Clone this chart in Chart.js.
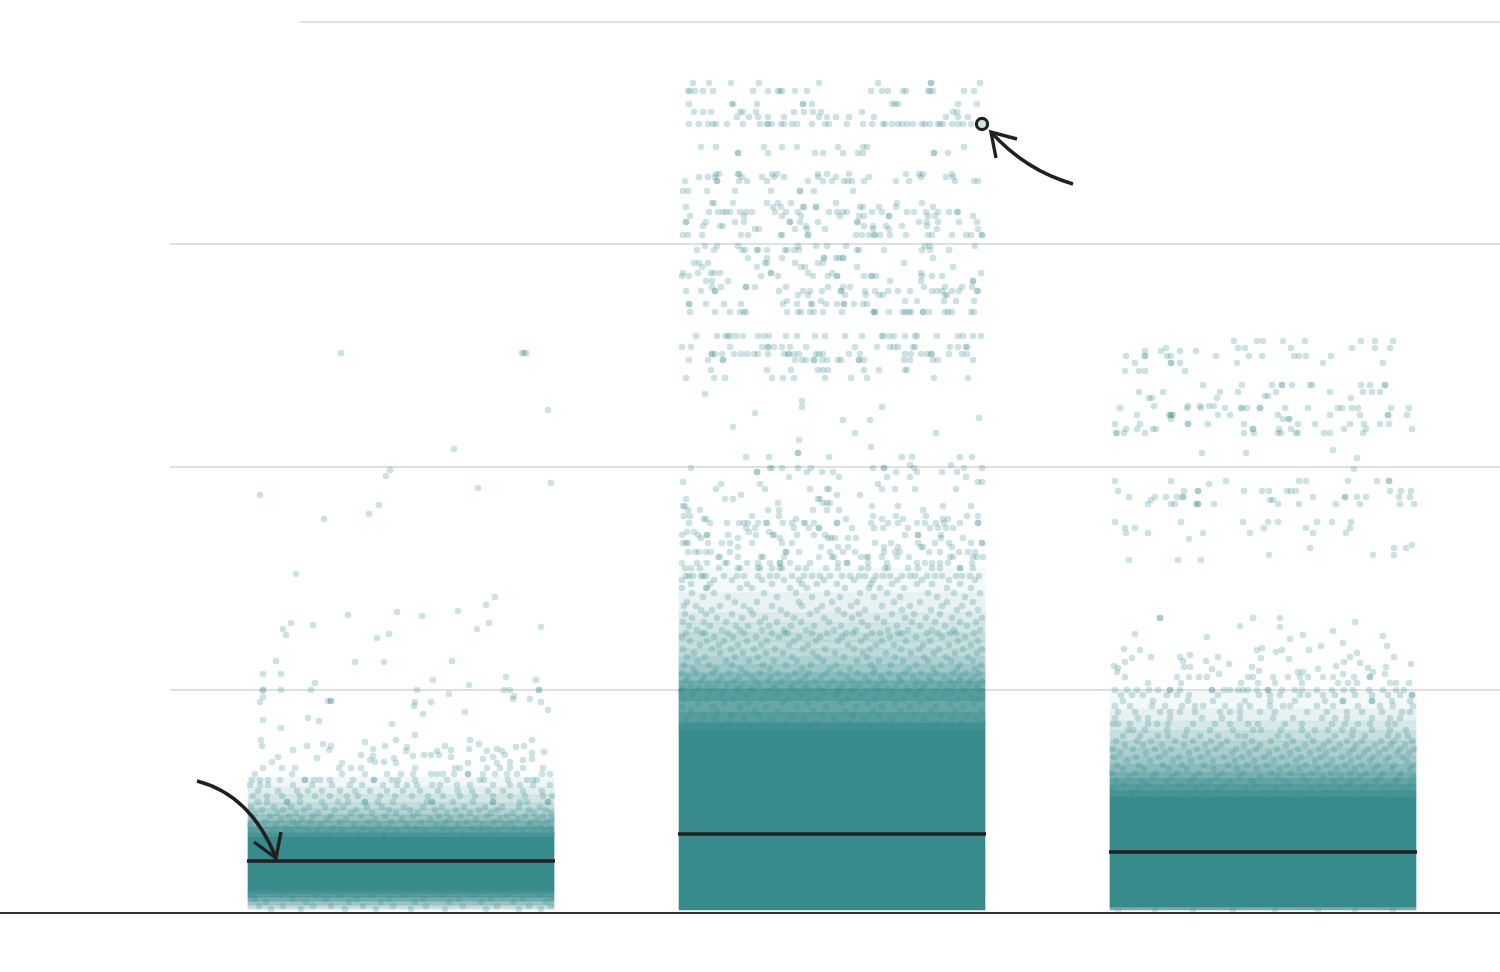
<!DOCTYPE html>
<html><head><meta charset="utf-8">
<style>html,body{margin:0;padding:0;background:#fff}canvas{display:block}</style>
<script src="https://cdn.jsdelivr.net/npm/chart.js@4"></script>
</head><body><canvas id="c" width="1500" height="972"></canvas>
<script>
// Read-off units: one gridline step = 223 y-units, one category step = 431 x-units.
const categoryCenters = [0, 431, 862];
const medians = [52, 79, 61];
const gridLevels = [223, 446, 669, 891];
const jitterExtent = 153;
const highlight = {category: 1, jitter: 150, value: 789};
// Saturated parts of each strip, too dense to read single dots: [from, to, density]
const bandsA = [[23,76,1],[76,80,.9],[80,86,.8],[86,92,.65],[92,98,.5],[98,104,.38],[104,110,.3],[110,118,.22],[118,126,.14],[126,136,.07],[20,23,.95],[16,20,.85],[12,16,.7],[8,12,.5],[5,8,.3],[3,5,.15]];
const bandsB = [[3,183,1],[183,190,.95],[190,200,.84],[200,213,.76],[213,224,.84],[224,232,.7],[232,240,.58],[240,248,.48],[248,256,.4],[256,264,.32],[264,272,.28],[272,280,.3],[280,290,.22],[290,300,.17],[300,320,.11],[320,345,.06]];
const bandsC = [[6,116,1],[3,6,.7],[116,122,.92],[122,128,.85],[128,134,.78],[134,140,.68],[140,148,.58],[148,156,.48],[156,164,.42],[164,172,.36],[172,182,.28],[182,192,.2],[192,204,.12],[204,222,.06]];
// Individually read dots, as rows: [value, [jitter, jitter, ...]]
const rowsA = [
[560,[-60,121,123,125]],[503,[147]],[464,[53]],[443,[-11]],[437,[-15]],[430,[150]],[425,[77]],[418,[-141]],[408,[-22]],[399,[-32]],[394,[-77]],[339,[-105]],[316,[94]],[308,[85]],[302,[57]],[301,[-4]],[298,[-53]],[297,[21]],[290,[-110,88]],[288,[-88]],[286,[140]],[284,[-118,76]],[279,[-12]],[278,[-115]],[275,[-24]],
[252,[-125,51]],[251,[-46,-17]],[239,[-138,-120]],[236,[105]],[233,[32,135]],[230,[-86]],[228,[68]],[223,[-138,-138,-120,-90,16,103,109,138,138]],[219,[48]],[217,[113]],[216,[-138]],[214,[112,129]],[212,[-73,-70,-70]],[211,[-141,14,30,140]],[207,[13]],[203,[147]],[201,[64]],[199,[22]],[195,[-93]],[193,[-138]],[192,[-82]],[189,[-9]],[185,[-120]],
[178,[14]],[173,[-140,-5,69,131]],[171,[-36]],[169,[78,-78]],[167,[-139,-94,-70,-16,44,123]],[166,[6,115]],[164,[96,-28,68]],[163,[-108,-72,50]],[162,[5,86,101,36]],[161,[143]],[160,[131]],[158,[-40,23,30,38,104]],[157,[12,-28]],[156,[50,-123,92]],[155,[-84,-7]],[154,[82,131]],[153,[-31,122]],[151,[-129,-26,-17,109]],[150,[-5,96,-59,67]],
[145,[-138,-119,-106,-62,-50,-40,14,59,54,86,99,109,122,142]],[139,[-146,-109,-59,-36,-14,0,12,30,36,42,53,67,67,82,94,106,116,141,149]],[133,[-149,-141,-133,-121,-96,-96,-87,-81,-71,-48,-27,-27,-9,-3,14,46,79,83,107,126,132,136]],[128,[-151,-141,-133,-108,-89,-69,-51,-39,-18,-4,6,16,31,39,56,69,92,109,119,132,149]],[122,[-143,-123,-104,-93,-79,-61,-46,-31,-14,2,19,37,57,71,87,102,122,141]],[117,[-148,-134,-119,-101,-86,-71,-54,-43,-21,-6,11,27,42,59,74,92,109,124,142,151]],[111,[-143,-134,-114,-114,-101,-79,-63,-53,-36,-36,-23,-8,26,31,31,52,72,92,92,119,126,147,147]],
[106,[-150,-127,-110,-92,-76,-58,-34,-19,3,22,41,63,84,101,118,139]],[103,[-139,-118,-97,-66,-45,-12,9,34,55,78,96,128,145]],[100,[-146,-124,-105,-83,-50,-29,-5,17,46,69,90,112,133,150]],[97,[-131,-112,-88,-70,-40,-16,12,38,60,86,106,124,142]],[94,[-148,-120,-99,-74,-55,-26,1,29,49,75,99,117,136,151]],[91,[-136,-108,-90,-61,-33,-10,20,44,66,93,110,130,146]],[88,[-151,-125,-103,-80,-47,-22,6,35,57,81,104,127,140]],[85,[-142,-115,-94,-68,-38,-13,15,42,72,88,113,134,149]],[82,[-149,-128,-109,-84,-59,-29,-4,24,51,79,97,121,143]],[79,[-137,-117,-91,-72,-42,-17,10,37,62,90,108,131,151]],
[18,[-150,-120,-85,-60,-30,5,40,72,105,138]],[14,[-146,-108,-75,-44,-12,22,58,90,122,150]],[11,[-135,-95,-52,-20,14,48,80,112,145]],[7,[-142,-118,-88,-70,-38,-8,25,62,96,128,150]],[4,[-130,-100,-56,-25,10,44,85,118,140]]
];
const rowsB = [
[830,[-139,-123,-101,-73,-13,46,99,99,148]],[822,[-144,-142,-137,-129,-119,-79,-64,-54,-52,-50,-37,-25,39,50,56,71,74,96,98,101,132,142]],[809,[-143,-100,-99,-75,-29,-29,-20,60,63,66,126,145]],[801,[-138,-129,-121,-92,-89,-76,-38,-28,-19,-11,30,121,125]],[796,[-95,-83,-74,-64,-48,-13,-5,4,17,42,114,126,136]],[789,[-143,-133,-124,-119,-116,-105,-89,-72,-65,-64,-60,-51,-48,-40,-35,-20,-7,-3,15,31,40,51,53,60,66,70,75,81,90,93,98,106,108,111,120,126,131,139]],
[766,[-131,-116,-68,-50,-35,6,31,35,132]],[760,[-94,-94,-64,-17,-9,11,26,31,102,102,116]],[739,[-116,-113,-94,-93,-60,-55,-14,-5,17,74,87,91,120]],[736,[-133,-124,-117,-90,-70,-58,-48,-14,4,37,89,114,121]],[732,[-147,-115,-115,-93,-85,-65,-24,-9,0,12,16,20,32,64,77,123,142,146]],[722,[-149,-144,-125,-97,-61,-32,-32,-18,21]],[710,[-120,-118,-99,-65,-54,-41,4,65,90]],[706,[-146,-59,-51,-29,-28,-16,-16,28,31,47,64,101]],[701,[-123,-114,-109,-106,-102,-92,-86,-80,-57,-46,-34,-3,5,11,15,40,50,75,82,94,106,117,125,126]],[697,[-142,-88,-50,-31,8,27,32,57,57,96,103,141]],[691,[-146,-146,-126,-97,-88,-42,-42,-32,-14,25,26,87,95,106,127,145]],[687,[-129,-112,-109,-26,32,41,54,70,95]],[684,[-77,-73,-37,-25,-7,41,57,105,146]],[678,[-149,-144,-130,-91,-84,-51,-50,-24,-24,24,30,37,42,43,48,58,74,96,100,120,134,139,150,150]],
[667,[-127,-115,-94,-34,-16,-5,14,93,98,143]],[663,[-135,-118,-90,-87,-75,-74,-65,-47,-45,-38,-33,25,27,52,90,98,117]],[655,[-84,-65,-50,-8,-8,4,7,11,11,101]],[650,[-138,-133,-124,-67,-65,-37,-14,-9,72]],[646,[-130,-75,-31,-27,25,121]],[640,[-149,-134,-121,-118,-112,-61,-61,-24,0,89,149]],[637,[-150,-143,-71,-54,-19,-4,5,5,32,39,40,44,100,110,90]],[632,[-126,-120,-104,58,89,141,141]],[626,[-120,-111,-86,-86,-77,-46,-4,11,18,130,92,113,140]],[622,[-146,-131,-117,-117,-53,-29,-22,-10,9,9,33,43,56,66,78,100,105,110,120,127,145,146]],[618,[-34,-24,13,34,47,51,113,115]],[612,[-45,-11,73,85,112,124,142]],[609,[-143,-143,-126,-108,-91,-49,-35,-21,-20,-6,5,12,12,22,31,35]],[601,[-142,-117,-102,-92,-88,-86,-45,-34,-31,-22,-18,-9,10,42,42,43,57,71,73,77,79,91,91,97,113,116,120,139,142]],
[577,[-136,-115,-107,-104,-102,-96,-89,-74,-68,-63,-46,-35,-17,-7,13,30,50,51,57,62,73,83,85,105,126,131,141,149]],[566,[-150,-141,-102,-70,-64,-64,-58,-50,-42,-26,23,45,58,62,66,81,83,118,126,134,135]],[559,[-120,-120,-117,-110,-98,-91,-85,-78,-74,-64,-48,-44,-43,-38,-33,-16,-13,-9,17,28,73,79,89,95,99,100,117,130,135]],[553,[-143,-124,-109,-109,-37,-30,-26,-18,-18,-10,-5,6,9,27,27,32,72,78,101,106,141]],[543,[-121,-65,-41,-14,-9,-4,32,47,73,75]],[535,[-146,-118,-107,-60,-49,-38,-7,19,35,102,136]],[519,[-127]],[512,[-30]],[506,[-30,50]],
[500,[-77]],[495,[147]],[493,[11,38]],[486,[-99]],[480,[23,104]],[473,[-33]],[466,[39]],[460,[-34,-34]],[456,[-86,-63,-3,70,80,140,128]],[448,[119,78]],[445,[-141,-62,-60,-50,-34,-21,41,52,52,150,82,132]],[441,[-75,-75,-25,-10,1,64,125,85,110]],[436,[-43,7,55,78,134]],[431,[-149,146,150]],[429,[-111,-72,46]],[424,[-116,-67,-22,-5,-3,50,63,83,124]],[418,[-91,5,28]],[414,[-146,-107,-99,-14,-12]],[410,[-54,-9,-2,-5]],[407,[-149,-147,40,66,111,139]],[403,[-144,-132,-64,-53,-19,-5,7,91]],[397,[-148,-142,-80,-53,64,94,146,135,41]],[394,[-128,-126,-36,14,71,50,111,116]],[390,[-143,-122,-105,-93,-88,-84,-74,-66,-65,-49,-40,-28,-27,-18,5,5,39,56,66,85,93,104,128,146,146,112]],[385,[-86,-77,-38,-23,-13,-13,20,42,51,76,98,106,114,121]],[381,[-145,-138,-63,-83]],[378,[-150,-125,-125,-134,-76,-59,-58,-18,-7,73,86,86,109,-35,-104]],[375,[-131,-94,-52,-4,-1,3,16,24,109,131]],[370,[-149,-146,-144,-124,-110,-102,-80,-50,-40,43,59,86,103,117,139,150,150]],[366,[-94,-11,6,16,52,66,91,89,120]],[361,[-144,-137,-133,-126,-121,-102,-46,-46,-33,-2,11,23,52,63,68,97,108,127,136,143]],[356,[-114,-112,-94,-69,-71,-48,-13,0,2,29,35,36,50,65,77,118,121,141,145,151]],[350,[-150,-135,-125,-107,-105,-85,-74,-62,-52,-52,-42,-22,6,15,15,36,55,85,93,100,108,116,140]],[345,[-147,-141,-132,-113,-94,-92,-74,-72,-60,-52,-50,-34,-26,-6,6,29,36,53,56,76,86,100,108,128,128,141]],
[337,[-146,-143,-139,-131,-129,-126,-108,-95,-88,-74,-62,-55,-40,-28,-20,-12,-2,10,18,27,33,44,51,58,70,78,83,95,103,110,124,130,138,147]],[333,[-150,-118,-100,-70,-48,-33,-8,22,41,65,90,117,143]],[329,[-141,-122,-85,-60,-30,-15,5,39,60,85,100,128]],[325,[-150,-126,-125,-92,-80,-42,-25,13,37,48,72,115,139]],[320,[-140,-118,-68,-36,-5,28,55,96,122,148]],[316,[-129,-104,-55,-20,8,42,68,105,133]],[311,[-145,-97,-75,-33,0,25,62,88,115,141]],[307,[-148,-136,-112,-88,-60,-30,-10,19,50,78,110,130]],[303,[-131,-120,-82,-51,-15,6,33,70,99,125,146]],[299,[-147,-126,-100,-79,-45,-22,12,27,60,82,108,137]],[295,[-140,-115,-90,-67,-38,-8,20,45,73,94,120,150]],[291,[-149,-128,-106,-72,-55,-31,-3,30,52,80,103,128,144]],[287,[-143,-122,-96,-84,-63,-41,-18,9,36,65,88,113,135]],[283,[-135,-110,-92,-70,-48,-26,2,24,56,76,100,122,148]],[280,[-146,-130,-127,-104,-88,-60,-47,-44,-20,-5,14,21,40,48,66,70,95,106,118,124,142]],[276,[-150,-118,-99,-76,-53,-33,-12,10,34,58,84,110,133]],[272,[-142,-125,-108,-85,-65,-38,-16,6,29,50,74,98,126,146]],[268,[-132,-113,-94,-71,-43,-24,16,44,62,91,117,139]],[264,[-149,-120,-101,-78,-57,-29,-7,22,38,69,87,107,131,150]],[260,[-138,-112,-89,-66,-49,-19,3,31,54,79,102,123,145]],[256,[-145,-127,-97,-74,-40,-14,12,35,63,92,114,136]],[252,[-134,-106,-83,-58,-35,-9,25,47,71,96,119,141]],[248,[-148,-123,-100,-69,-46,-21,4,39,59,84,109,128,149]],[244,[-139,-116,-91,-62,-30,-2,18,43,77,101,125,143]],[240,[-150,-136,-119,-103,-86,-72,-54,-37,-23,-6,8,26,41,57,73,89,104,121,134,147]],[236,[-144,-128,-110,-93,-80,-61,-44,-27,-11,15,33,49,67,81,97,112,129,142]],[232,[-147,-131,-114,-98,-76,-64,-50,-32,-17,1,20,37,52,69,86,99,118,127,138,150]],[228,[-141,-124,-105,-90,-73,-56,-39,-25,-4,11,28,46,64,83,93,108,122,137,146]],[225,[-149,-133,-117,-95,-81,-59,-42,-28,-13,7,23,42,55,75,90,115,130,144]],[222,[-151,-137,-122,-108,-94,-79,-65,-52,-36,-22,-9,6,19,34,47,61,76,88,103,119,133,148]],
[218,[-140,-112,-86,-57,-31,4,29,58,84,111,139]],[214,[-148,-125,-99,-70,-44,-14,16,43,71,97,126,147]],[210,[-134,-107,-83,-49,-24,9,36,63,89,118,142]],[206,[-150,-119,-92,-66,-35,-6,24,50,78,104,131]],[202,[-141,-115,-77,-54,-19,13,41,69,99,123,149]],[198,[-128,-101,-73,-40,-10,21,47,82,109,136]],[194,[-146,-117,-88,-60,-28,2,32,59,92,120,144]],[190,[-133,-104,-68,-46,-16,17,52,75,106,129,151]],[186,[-144,-111,-81,-51,-23,11,39,66,94,124,138]]
];
const rowsC = [
[572,[-29,-6,0,20,42,98,112,130]],[565,[-97,-25,-18,28,89,112,127]],[562,[-118,-102,-83,-67]],[557,[-137,-118,-118,-96,-92,-47,-14,-1,31,36,43,68]],[550,[-128,-92,-92,-83,-26,60,120]],[542,[-138,-124,-118,-78]],[528,[-60,-21,9,19,19,29,47,49,98,107,122,122]],[521,[-124,-100,-43,-25,13,67,100,109,117]],[517,[2,5]],[515,[-114,-111,-46,88]],[507,[-109,-75,-63,-49,-54]],[505,[-143,-76,-62,-38,-22,-21,-16,-3,-3,22,45,75,79,89,95,128,146]],[498,[-126,-94,-90,-92,-92,-45,-33,15,67,97,125,125,144]],[494,[-92,20,26,26]],[489,[-148,-123,-75,-75,-55,-19,35,52,87,101,117,126]],[484,[-137,-126,-110,-107,-10,-10,16,28,81,103,149]],[480,[-147,-146,-139,-118,-19,-9,15,18,33,35,61,67,100]],[463,[70]],[460,[-61,-17]],[455,[94]],[444,[91]],
[432,[-148,-92,-37,85,114,126,126,43,36]],[429,[-54]],[422,[-145,-79,-65,-65,-19,-1,6,24,28,33,138,127,148]],[416,[-134,-108,-97,-86,-80,-80,50,94,103,136,147,82,82]],[413,[-112,7,10]],[409,[-115,-92,-88,-67,-65,-65,-49,15,36,73,97,137,151]],[391,[-148,-82,-20,5,15,54,69,88]],[385,[-138,-128,1,43,87]],[380,[-137,-115,-60,-13,50,83]],[374,[-74]],[368,[149]],[365,[47,131,143]],[358,[6,110,131]],[353,[-134,-85,-62]],
[295,[-103,-103,-10,17]],[291,[92]],[287,[-23]],[286,[17]],[282,[70]],[279,[-128]],[278,[40]],[277,[120]],[276,[-56]],[274,[27]],[270,[80]],[267,[58,124]],[265,[-1]],[264,[-139]],[263,[-123,-6,19,46]],[261,[13]],[260,[94]],[258,[-73]],[256,[-112,-83,-45,87,131]],[255,[-131,-2]],[254,[26]],[252,[-80,-57]],[251,[-138,81]],[250,[97]],[249,[-34,148]],[247,[-149,73]],[246,[-79,-73,-11,123]],[245,[-145,105]],[244,[-51,55]],[242,[-4]],[241,[-146,110,35,40]],[239,[-44,80,122]],
[236,[-138,-86,-74,-64,-56,-15,-10,10,25,37,45,60,70,91,107,107]],[230,[-115,-82,-22,-5,12,39,75,85,94,127,133,146]],[223,[-148,-136,-126,-114,-105,-93,-93,-83,-51,-51,-39,-33,-25,-20,-15,-6,5,5,19,32,39,54,69,81,90,106,120,133,141]],[218,[-142,-131,-120,-96,-86,-74,-45,-4,7,17,37,45,60,72,92,109,125,137,149,149]],[212,[-140,-110,-75,-50,-18,7,32,62,80,80,109,109,129,147]],[207,[-148,-133,-111,-98,-81,-68,-60,-38,-23,-13,7,20,27,54,70,95,117,130,150]],[201,[-145,-128,-103,-93,-83,-68,-43,-33,-23,-3,12,44,64,84,99,119,139,147]],[195,[-148,-125,-115,-93,-61,-41,-23,10,30,59,72,84,109,127,137]],[189,[-150,-145,-133,-115,-106,-95,-70,-48,-33,-15,-5,22,39,69,82,95,107,125,132]],[183,[-135,-130,-118,-96,-76,-53,-30,-10,-2,18,39,52,65,79,90,109,127,143]],[177,[-140,-123,-105,-95,-78,-63,-45,-25,-18,15,25,45,72,89,102,125,135,145]],
[172,[-147,-126,-112,-88,-70,-52,-36,-11,8,30,50,66,84,99,118,131,149]],[168,[-138,-120,-101,-79,-58,-42,-19,-3,23,42,61,77,93,112,128,142]],[164,[-150,-130,-108,-92,-66,-47,-27,-7,14,35,56,71,90,105,122,137,151]],[160,[-143,-117,-98,-74,-55,-31,-14,6,27,47,63,86,101,116,134,146]],[156,[-149,-127,-104,-84,-62,-39,-21,1,19,38,58,79,96,110,126,140]],[152,[-136,-113,-90,-72,-50,-28,-9,11,33,52,69,88,107,123,144]],[148,[-146,-124,-100,-81,-59,-35,-16,4,24,43,64,82,99,115,131,150]],[144,[-140,-119,-94,-76,-49,-26,-6,17,36,55,74,92,111,129,147]],[140,[-151,-128,-107,-86,-64,-41,-20,8,28,49,68,87,103,120,138]],[136,[-134,-110,-91,-69,-46,-24,-3,15,40,60,78,97,117,136,150]],[132,[-147,-121,-96,-73,-53,-33,-11,21,44,71,89,113,133]],[128,[-139,-116,-83,-61,-38,-8,26,57,85,104,125,148]],[124,[-150,-125,-102,-67,-44,-18,12,48,76,98,119,141]],[120,[-131,-109,-78,-56,-29,3,34,62,91,128,146]],
[3,[-145,-108,-70,-30,12,55,92,130]]
];

const flat = (rows, i) => rows.flatMap(([v, xs]) => xs.map(j => ({x: categoryCenters[i] + j, y: v})));
const band = (bands, i) => bands.map(([lo, hi, d]) => ({
  type:'bar', order:5, grouped:false, barThickness:2*jitterExtent, borderWidth:0, borderSkipped:false,
  backgroundColor:`rgba(55,139,139,${d})`, data:[{x:categoryCenters[i], y:[lo,hi]}]
}));
const dots = rows => ({type:'scatter', order:2, showLine:false, pointRadius:3.3, pointBorderWidth:0, pointHoverRadius:3.3, pointBackgroundColor:'rgba(55,139,139,0.25)', data:rows});
const rule = (y, x0, x1, color, w, order) => ({type:'line', order, data:[{x:x0,y},{x:x1,y}], borderColor:color, borderWidth:w, pointRadius:0, tension:0, borderCapStyle:'butt'});

const xMin=-401, xMax=1099, yMin=-59, yMax=913;
const datasets = [
  ...gridLevels.map((g,i)=>rule(g, i===3?-101:-231, xMax, i===3?'#e2e2e2':'#e0e0e0', 2, 9)),
  ...band(bandsA,0), ...band(bandsB,1), ...band(bandsC,2),
  dots(flat(rowsA,0)), dots(flat(rowsB,1)), dots(flat(rowsC,2)),
  ...medians.map((m,i)=>rule(m, categoryCenters[i]-154, categoryCenters[i]+154, '#231f20', 3.5, 1)),
  rule(0, xMin, xMax, '#333333', 2, 0),
  {type:'scatter', order:0, data:[{x:categoryCenters[highlight.category]+highlight.jitter, y:highlight.value}], pointRadius:5.6, pointBorderWidth:3.2, pointBorderColor:'#231f20', pointBackgroundColor:'rgba(55,139,139,0.25)'}
];
// Annotation arrows in axis units: start, control, tip, head ends
const arrows = [
  {s:[-204,132], c:[-150,118], t:[-125,55], h:[[-147,71],[-120,81]]},
  {s:[672,729], c:[624,743], t:[590,781], h:[[616,774],[595,755]]}
];
const arrowPlugin = {id:'arrows', afterDatasetsDraw(ch){
  const {ctx, scales:{x,y}} = ch; const P = p => [x.getPixelForValue(p[0]), y.getPixelForValue(p[1])];
  ctx.save(); ctx.strokeStyle='#231f20'; ctx.lineWidth=3.4; ctx.lineCap='butt'; ctx.lineJoin='miter';
  arrows.forEach(a=>{
    const s=P(a.s), c=P(a.c), t=P(a.t), h0=P(a.h[0]), h1=P(a.h[1]);
    ctx.beginPath(); ctx.moveTo(...s); ctx.quadraticCurveTo(...c,...t); ctx.stroke();
    ctx.beginPath(); ctx.moveTo(...h0); ctx.lineTo(...t); ctx.lineTo(...h1); ctx.stroke();
  });
  ctx.restore();
}};
new Chart(document.getElementById('c'), {
  type:'scatter', data:{datasets}, plugins:[arrowPlugin],
  options:{responsive:false, animation:false, devicePixelRatio:1,
    layout:{padding:0, autoPadding:false}, plugins:{legend:{display:false}, tooltip:{enabled:false}},
    scales:{x:{type:'linear',min:xMin,max:xMax,display:false,offset:false},
            y:{type:'linear',min:yMin,max:yMax,display:false}}}
});
</script></body></html>
